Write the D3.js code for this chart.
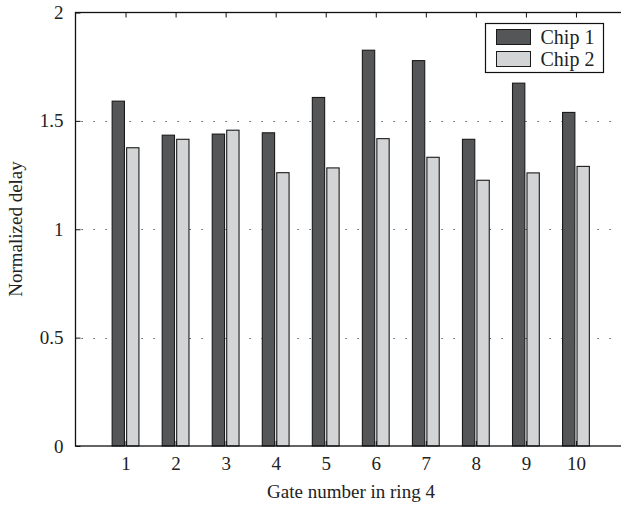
<!DOCTYPE html>
<html>
<head>
<meta charset="utf-8">
<script src="https://cdn.jsdelivr.net/npm/d3@7"></script>
<style>
  body { margin: 0; background: #fff; }
  text { font-family: "Liberation Serif", "Times New Roman", serif; fill: #222; }
</style>
</head>
<body>
<div id="chart"></div>
<script>
var gates = [1, 2, 3, 4, 5, 6, 7, 8, 9, 10];
var chip1 = [1.591, 1.434, 1.439, 1.445, 1.608, 1.826, 1.778, 1.415, 1.674, 1.539];
var chip2 = [1.376, 1.415, 1.457, 1.261, 1.283, 1.418, 1.332, 1.226, 1.260, 1.290];
var seriesNames = ["Chip 1", "Chip 2"];
var seriesColors = ["#555658", "#d3d4d5"];
var yTicks = [0, 0.5, 1, 1.5, 2];

var svgWidth = 621;
var svgHeight = 506;

var margin = { top: 12.5, left: 75.5 };
var plotRight = 626;
var plotBottom = 446;

var svg = d3.select("#chart")
  .append("svg")
  .attr("width", svgWidth)
  .attr("height", svgHeight);

var x = d3.scaleLinear().domain([0, 11]).range([margin.left, plotRight]);
var y = d3.scaleLinear().domain([0, 2]).range([plotBottom, margin.top]);

var sub = d3.scaleBand().domain([0, 1]).range([-13.4, 13.4]).paddingInner(0.15);

// dotted grid
svg.append("g")
  .selectAll("line")
  .data(yTicks.filter(d => d > 0 && d < 2))
  .enter()
  .append("line")
  .attr("x1", margin.left + 6)
  .attr("x2", plotRight)
  .attr("y1", d => Math.round(y(d)) + 0.5)
  .attr("y2", d => Math.round(y(d)) + 0.5)
  .attr("stroke", "#333")
  .attr("stroke-width", 1.2)
  .attr("stroke-dasharray", "1.2,10.8");

// bars
var rows = gates.map((g, i) => ({ gate: g, vals: [chip1[i], chip2[i]] }));

var groups = svg.append("g")
  .selectAll("g")
  .data(rows)
  .enter()
  .append("g")
  .attr("transform", d => `translate(${x(d.gate)},0)`);

groups.selectAll("rect")
  .data(d => d.vals.map((v, k) => ({ k: k, v: v })))
  .enter()
  .append("rect")
  .attr("x", d => sub(d.k))
  .attr("width", sub.bandwidth())
  .attr("y", d => y(d.v))
  .attr("height", d => y(0) - y(d.v))
  .attr("fill", d => seriesColors[d.k])
  .attr("stroke", "#1a1a1a")
  .attr("stroke-width", 1.1);

// axes (ticks inside)
var bottomAxis = d3.axisBottom(x).tickValues(gates).tickSize(-5).tickPadding(11).tickFormat(d3.format("d"));
var topAxis = d3.axisTop(x).tickValues(gates).tickSize(-5).tickFormat("");
var leftAxis = d3.axisLeft(y).tickValues(yTicks).tickSize(-5).tickPadding(12).tickFormat(d => d);

var xAxis = svg.append("g")
  .attr("transform", `translate(0,${plotBottom})`)
  .call(bottomAxis);
var xTop = svg.append("g")
  .attr("transform", `translate(0,${margin.top})`)
  .call(topAxis);
var yAxis = svg.append("g")
  .attr("transform", `translate(${margin.left},0)`)
  .call(leftAxis);

[xAxis, xTop, yAxis].forEach(function(a) {
  a.select(".domain").remove();
  a.selectAll(".tick line").attr("stroke", "#111");
  a.selectAll("text").style("font-size", "19px").style("font-family", "Liberation Serif").attr("fill", "#222");
});

// frame
svg.append("rect")
  .attr("x", margin.left)
  .attr("y", margin.top)
  .attr("width", plotRight - margin.left)
  .attr("height", plotBottom - margin.top)
  .attr("fill", "none")
  .attr("stroke", "#111")
  .attr("stroke-width", 1.3);

// axis titles
svg.append("text")
  .attr("x", 351)
  .attr("y", 498)
  .attr("text-anchor", "middle")
  .style("font-size", "19px")
  .text("Gate number in ring 4");

svg.append("text")
  .attr("transform", "rotate(-90)")
  .attr("x", -229)
  .attr("y", 22)
  .attr("text-anchor", "middle")
  .style("font-size", "19px")
  .text("Normalized delay");

// legend
var legend = svg.append("g").attr("transform", "translate(485.5,23.5)");
legend.append("rect")
  .attr("width", 118)
  .attr("height", 49)
  .attr("fill", "#fff")
  .attr("stroke", "#111")
  .attr("stroke-width", 1.2);

var items = legend.selectAll("g")
  .data(seriesNames)
  .enter()
  .append("g")
  .attr("transform", (d, i) => `translate(0,${6 + i * 22})`);

items.append("rect")
  .attr("x", 11)
  .attr("width", 34)
  .attr("height", 15)
  .attr("fill", (d, i) => seriesColors[i])
  .attr("stroke", "#1a1a1a");

items.append("text")
  .attr("x", 55)
  .attr("y", 14)
  .style("font-size", "20px")
  .text(d => d);
</script>
</body>
</html>
